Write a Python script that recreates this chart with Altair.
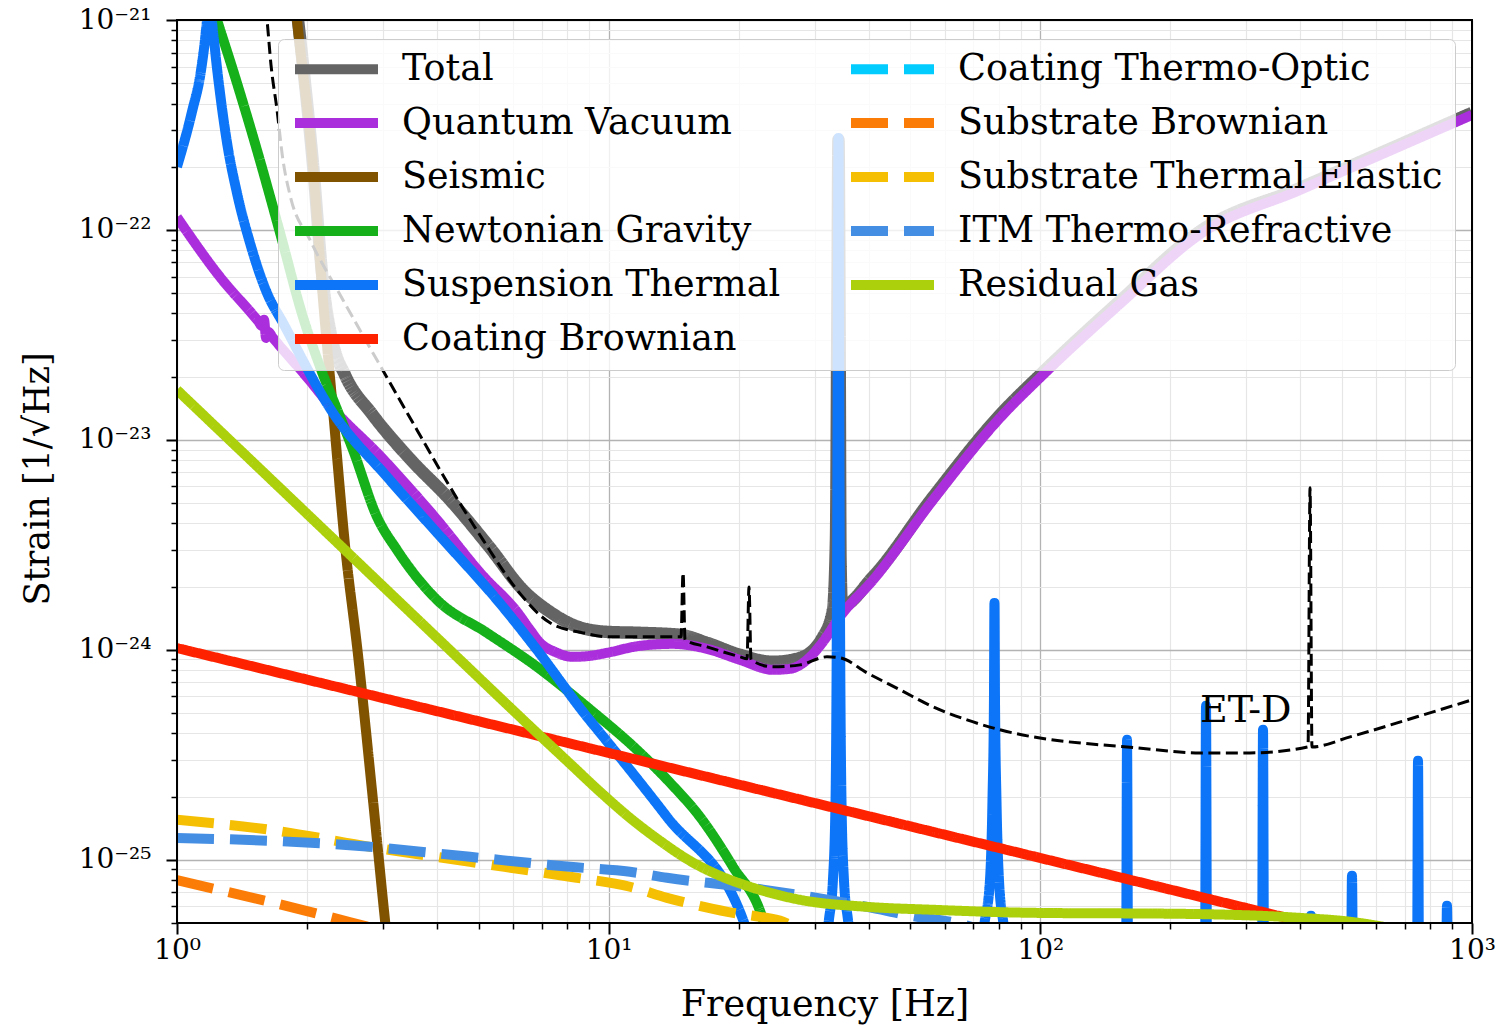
import altair as alt
import pandas as pd

# ---------------- data (f in Hz, strain in 1/sqrt(Hz)) ----------------
total_f = [1.866, 2.066, 2.179, 2.298, 2.450, 2.829, 3.466, 4.290, 5.311, 6.33, 7.313, 8.268,
           9.911, 11.82, 14.63, 16.90, 20.15, 24.03, 27.75, 31.37, 33.08, 33.62, 33.89, 34.07,
           34.25, 34.44, 34.71, 40.96, 56.43, 81.05, 100.4, 153.8, 236.9, 399.5, 1000]
total_h = [1.468e-21, 2.04e-22, 5.59e-23, 2.87e-23, 2.04e-23, 1.33e-23, 8.12e-24, 5.18e-24,
           3.06e-24, 1.93e-24, 1.517e-24, 1.315e-24, 1.218e-24, 1.205e-24, 1.179e-24, 1.080e-24,
           9.47e-25, 8.77e-25, 9.16e-25, 1.153e-24, 1.55e-24, 3.34e-24, 4.64e-23, 2.68e-22,
           4.64e-23, 2.68e-24, 1.62e-24, 2.23e-24, 5.35e-24, 1.33e-23, 2.06e-23, 4.64e-23,
           1.0e-22, 1.585e-22, 3.61e-22]

quantum_f = [1.0, 1.258, 1.540, 1.574, 1.591, 1.608, 1.625, 1.669, 2.033, 2.226, 3.0, 3.918,
             5.116, 6.134, 6.574, 6.934, 7.511, 8.268, 9.05, 9.911, 11.82, 14.09, 16.90, 20.15,
             24.03, 26.31, 28.80, 31.37, 34.34, 40.96, 56.43, 81.05, 100.4, 153.8, 236.9, 399.5,
             1000]
quantum_h = [1.15e-22, 5.97e-23, 3.69e-23, 3.49e-23, 3.73e-23, 3.06e-23, 3.27e-23, 3.06e-23,
             1.91e-23, 1.517e-23, 8.12e-24, 4.39e-24, 2.25e-24, 1.517e-24, 1.245e-24, 1.080e-24,
             9.78e-25, 9.26e-25, 9.36e-25, 9.68e-25, 1.045e-24, 1.068e-24, 1.011e-24, 8.96e-25,
             8.03e-25, 8.12e-25, 8.96e-25, 1.092e-24, 1.44e-24, 2.15e-24, 5.18e-24, 1.287e-23,
             2.0e-23, 4.49e-23, 9.68e-23, 1.55e-22, 3.53e-22]

seismic_f = [1.857, 1.897, 2.066, 2.179, 2.298, 2.450, 2.626, 2.829, 3.032, 3.083]
seismic_h = [1.55e-21, 1.0e-21, 2.0e-22, 4.64e-23, 1.39e-23, 3.16e-24, 9.47e-25, 2.15e-25,
             5.18e-26, 3.73e-26]

newtonian_f = [1.167, 1.238, 1.377, 1.532, 1.733, 1.958, 2.145, 2.386, 2.557, 2.906, 3.234,
               4.003, 5.225, 6.823, 8.907, 11.63, 13.87, 16.28, 19.41, 22.78, 23.64]
newtonian_h = [1.468e-21, 1.0e-21, 5.01e-22, 2.40e-22, 9.68e-23, 3.85e-23, 2.23e-23, 1.287e-23,
               8.96e-24, 4.30e-24, 2.99e-24, 1.73e-24, 1.205e-24, 8.30e-25, 5.35e-25, 3.34e-25,
               2.33e-25, 1.60e-25, 9.26e-26, 5.18e-26, 3.94e-26]

suspension_f = [1.0, 1.083, 1.137, 1.164, 1.180, 1.189, 1.199, 1.225, 1.258, 1.306, 1.377,
                1.476, 1.616, 1.760, 2.298, 3.066, 4.003, 5.692, 6.823, 8.907, 9.548, 13.65, 20.48,
                22.42,
                31.87, 32.38, 33.08, 33.54, 33.79, 33.97, 34.07, 34.16, 34.34, 34.62, 35.08, 35.84,
                36.42, 47.31,
                72.48, 74.44, 76.45, 77.47, 78.08, 78.29, 78.52, 79.14, 80.20, 81.93, 84.15,
                158.0, 158.8, 159.7, 240.7, 242.0, 243.3, 326.3, 328.0, 329.8, 421.5, 423.6, 425.9,
                524.5, 527.2, 530.1, 745.9, 749.8, 753.9, 870.5, 875.1, 879.8, 1000]
suspension_h = [2.0e-22, 3.65e-22, 5.78e-22, 8.48e-22, 1.179e-21, 1.73e-21, 1.179e-21, 7.20e-22,
                4.49e-22, 2.60e-22, 1.50e-22, 8.68e-23, 5.01e-23, 3.61e-23, 1.345e-23,
                6.67e-24, 3.61e-24, 1.60e-24, 1.0e-24, 4.80e-25, 4.03e-25, 1.60e-25, 5.18e-26,
                2.99e-26,
                3.94e-26, 5.18e-26, 8.03e-26, 1.93e-25, 1.73e-24, 4.64e-23, 2.74e-22, 4.64e-23,
                1.73e-24, 1.93e-25, 8.03e-26, 5.18e-26, 3.94e-26, 2.99e-26,
                3.94e-26, 5.18e-26, 8.03e-26, 1.93e-25, 5.78e-25, 1.67e-24, 5.78e-25, 1.93e-25,
                8.03e-26, 5.18e-26, 3.94e-26,
                2.99e-26, 3.73e-25, 2.99e-26, 2.99e-26, 5.41e-25, 2.99e-26, 2.99e-26, 4.16e-25,
                2.99e-26, 2.99e-26, 5.41e-26, 2.99e-26, 2.99e-26, 8.39e-26, 2.99e-26, 2.99e-26,
                2.96e-25, 2.99e-26, 2.99e-26, 6.04e-26, 2.99e-26, 2.99e-26]

coating_brownian_f = [1, 10, 100, 1000]
coating_brownian_h = [1.02e-24, 3.23e-25, 1.02e-25, 3.23e-26]

coating_to_f = [1, 10, 100, 1000]
coating_to_h = [3.0e-26, 2.0e-26, 1.2e-26, 8.0e-27]

substrate_brownian_f = [1, 2, 3, 10]
substrate_brownian_h = [8.0e-26, 5.7e-26, 4.6e-26, 2.5e-26]

substrate_te_f = [1.0, 1.642, 2.80, 4.772, 8.136, 11.20, 13.65, 16.63, 19.41, 22.42, 25.35, 27.75]
substrate_te_h = [1.55e-25, 1.39e-25, 1.153e-25, 9.78e-26, 8.30e-26, 7.44e-26, 6.59e-26, 5.97e-26,
                  5.59e-26, 5.35e-26, 5.07e-26, 4.64e-26]

itm_tr_f = [1.0, 1.642, 2.80, 4.772, 8.136, 11.20, 13.65, 21.26, 30.38, 39.66, 51.80, 61.77, 80.62]
itm_tr_h = [1.27e-25, 1.232e-25, 1.153e-25, 1.033e-25, 9.26e-26, 8.77e-26, 8.21e-26, 7.36e-26,
            6.59e-26, 5.97e-26, 5.35e-26, 5.07e-26, 4.39e-26]

residual_gas_f = [1.0, 1.958, 4.003, 6.934, 8.136, 9.548, 11.20, 13.15, 15.43, 18.11, 21.26, 27.75,
                  39.66, 56.43, 96.16, 211.8, 399.5, 521.8, 681, 1000]
residual_gas_h = [1.73e-23, 4.64e-24, 1.141e-24, 3.90e-25, 2.87e-25, 2.11e-25, 1.585e-25, 1.232e-25,
                  9.89e-26, 8.39e-26, 7.44e-26, 6.45e-26, 5.97e-26, 5.78e-26, 5.59e-26, 5.53e-26,
                  5.29e-26, 5.07e-26, 4.64e-26, 3.94e-26]

etd_f = [1.574, 1.616, 1.651, 1.705, 1.760, 1.827, 2.033, 2.424, 2.906, 3.597, 4.290, 5.116, 6.134,
         7.313, 8.720, 10.07, 11.82, 14.71, 14.87, 15.03, 16.90, 20.15, 20.92, 21.14, 21.37, 24.03,
         27.75, 32.04, 34.34, 39.66, 47.31, 56.43, 67.63, 80.62, 96.16, 137.5, 158.8, 234.4, 306.0,
         417.0, 421.5, 425.9, 521.8, 745.9, 1000]
etd_h = [1.39e-21, 1.0e-21, 6.11e-22, 3.73e-22, 2.15e-22, 1.468e-22, 8.96e-23, 4.64e-23, 2.40e-23,
         1.116e-23, 5.97e-24, 3.34e-24, 1.93e-24, 1.345e-24, 1.205e-24, 1.153e-24, 1.153e-24,
         1.153e-24, 2.33e-24, 1.116e-24, 1.033e-24, 9.26e-25, 9.06e-25, 1.995e-24, 8.96e-25,
         8.30e-25, 8.48e-25, 9.26e-25, 9.16e-25, 7.77e-25, 6.45e-25, 5.35e-25, 4.64e-25, 4.16e-25,
         3.85e-25, 3.53e-25, 3.45e-25, 3.23e-25, 3.23e-25, 3.45e-25, 5.91e-24, 3.45e-25, 3.85e-25,
         4.80e-25, 5.78e-25]

etd_label_f = [234.4]
etd_label_h = [5.12e-25]
etd_label_text = ["ET-D"]

series_names = ["Total", "Quantum Vacuum", "Seismic", "Newtonian Gravity", "Suspension Thermal",
                "Coating Brownian", "Coating Thermo-Optic", "Substrate Brownian",
                "Substrate Thermal Elastic", "ITM Thermo-Refractive", "Residual Gas"]
series_colors = ["#646464", "#ab2edc", "#805300", "#15b01a", "#0d75f8", "#fe2200", "#02ccfe",
                 "#fb7d07", "#f5bf03", "#448ee4", "#add00d"]
series_dashed = [False, False, False, False, False, False, True, True, True, True, False]
series_widths = [12.5, 10, 10, 10, 10, 10, 10, 10, 10, 10, 10]
series_data = [(total_f, total_h), (quantum_f, quantum_h), (seismic_f, seismic_h),
               (newtonian_f, newtonian_h), (suspension_f, suspension_h),
               (coating_brownian_f, coating_brownian_h), (coating_to_f, coating_to_h),
               (substrate_brownian_f, substrate_brownian_h), (substrate_te_f, substrate_te_h),
               (itm_tr_f, itm_tr_h), (residual_gas_f, residual_gas_h)]

rows = []
for name, (fs, hs) in zip(series_names, series_data):
    assert len(fs) == len(hs), name
    rows += [{"series": name, "f": f, "h": h} for f, h in zip(fs, hs)]
df = pd.DataFrame(rows)
etd_df = pd.DataFrame({"f": etd_f, "h": etd_h})
label_df = pd.DataFrame({"f": etd_label_f, "h": etd_label_h, "label": etd_label_text})

# the legend grid is filled column by column, like the reference
legend_order = series_names
color_of = dict(zip(series_names, series_colors))
dash_of = {n: ([37, 16] if d else [1, 0]) for n, d in zip(series_names, series_dashed)}

# ---------------- axes ----------------
SUP = {"0": "\u2070", "1": "\u00b9", "2": "\u00b2", "3": "\u00b3", "4": "\u2074", "5": "\u2075",
       "6": "\u2076", "7": "\u2077", "8": "\u2078", "9": "\u2079", "-": "\u207b"}


def pow_label(e):
    return "10" + "".join(SUP[c] for c in str(e))


LOG = "log(datum.value)/LN10"
DECADE = f"abs({LOG} - round({LOG})) < 0.001"


def label_expr(exps):
    parts = [f"round({LOG}) == {e} ? '{pow_label(e)}'" for e in exps]
    return f"abs({LOG} - round({LOG})) > 0.001 ? '' : " + " : ".join(parts) + " : ''"


x_ticks = [float(f"{m}e{e}") for e in range(0, 3) for m in range(1, 10)] + [1000.0]
y_ticks = [float(f"{m}e{e}") for e in range(-26, -21) for m in range(1, 10)
           if float(f"{m}e{e}") >= 5e-26] + [1e-21]

common_axis = dict(
    grid=True,
    gridColor={"condition": {"test": DECADE, "value": "#b3b3b3"}, "value": "#e6e6e6"},
    gridWidth={"condition": {"test": DECADE, "value": 1.3}, "value": 1.2},
    tickSize={"condition": {"test": DECADE, "value": 11}, "value": 6},
    tickWidth={"condition": {"test": DECADE, "value": 2}, "value": 1.5},
    tickColor="black",
    domain=False,
    labelFont="DejaVu Serif",
    labelFontSize=28,
    labelColor="black",
    labelFlush=False,
    labelOverlap=False,
    labelBound=False,
    titleFont="DejaVu Serif",
    titleFontWeight="normal",
    titleColor="black",
    titleAlign="center",
    titleBaseline="middle",
)

W, H = 1295, 903

x_axis = alt.Axis(values=x_ticks, labelExpr=label_expr([0, 1, 2, 3]), title="Frequency [Hz]",
                  labelPadding=2, titleX=W / 2, titleY=81, titleAngle=0, titleFontSize=36.5,
                  **common_axis)
y_axis = alt.Axis(values=y_ticks, labelExpr=label_expr([-26, -25, -24, -23, -22, -21]),
                  title="Strain [1/\u221aHz]", labelPadding=15, titleX=-140, titleY=H / 2 + 7,
                  titleAngle=270, titleFontSize=35, **common_axis)

X = alt.X("f:Q", scale=alt.Scale(type="log", domain=[1, 1000], nice=False), axis=x_axis)
Y = alt.Y("h:Q", scale=alt.Scale(type="log", domain=[5e-26, 1e-21], nice=False), axis=y_axis)

legend = alt.Legend(
    title=None, orient="none", legendX=101, legendY=19, columns=2, symbolType="stroke",
    symbolSize=83 * 83, symbolStrokeWidth=10, clipHeight=36, rowPadding=17, columnPadding=65,
    labelOffset=19, labelFont="DejaVu Serif", labelFontSize=36.5, labelColor="black",
    labelLimit=800, padding=12, fillColor="rgba(255,255,255,0.8)", strokeColor="#cccccc",
    cornerRadius=6,
)
COLOR = alt.Color("series:N", scale=alt.Scale(domain=legend_order,
                                              range=[color_of[n] for n in legend_order]),
                  legend=legend)
DASH = alt.StrokeDash("series:N", scale=alt.Scale(domain=legend_order,
                                                  range=[dash_of[n] for n in legend_order]),
                      legend=legend)

base = alt.Chart(df)
layers = []
for name, w in zip(series_names, series_widths):
    layers.append(
        base.transform_filter(alt.datum.series == name)
        .mark_line(clip=True, strokeWidth=w, strokeJoin="round", strokeCap="butt",
                   interpolate="monotone")
        .encode(x=X, y=Y, color=COLOR, strokeDash=DASH)
    )

etd = alt.Chart(etd_df).mark_line(clip=True, color="black", strokeWidth=3, interpolate="monotone",
                                  strokeDash=[12, 5.5]).encode(x=X, y=Y)
etd_text = alt.Chart(label_df).mark_text(align="left", baseline="middle", font="DejaVu Serif",
                                         fontSize=38, color="black").encode(x=X, y=Y, text="label:N")
frame = alt.Chart(pd.DataFrame({"k": [0]})).mark_rect(filled=False, color="black",
                                                      strokeWidth=2).encode(
    x=alt.value(0), x2=alt.value("width"), y=alt.value(0), y2=alt.value("height"))

chart = alt.layer(*layers, etd, etd_text, frame).properties(
    width=W, height=H,
    padding={"left": 177, "top": 20, "right": 30, "bottom": 102},
    autosize=alt.AutoSizeParams(type="none"),
).configure_view(strokeWidth=0).configure(background="white")

chart.save("out.html", embed_options={"renderer": "svg", "actions": False})
